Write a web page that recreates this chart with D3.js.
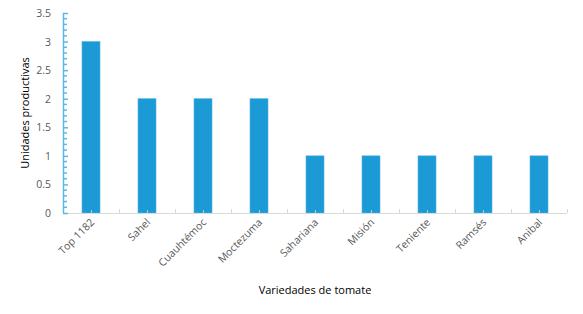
<!DOCTYPE html>
<html>
<head>
<meta charset="utf-8">
<script src="https://cdn.jsdelivr.net/npm/d3@7"></script>
<style>
  body { margin: 0; background: #fff; }
  text { font-family: "Open Sans", "Liberation Sans", sans-serif; }
</style>
</head>
<body>
<svg id="chart"></svg>
<script>
const variedades = ["Top 1182", "Sahel", "Cuauhtémoc", "Moctezuma", "Sahariana", "Misión", "Teniente", "Ramsés", "Anibal"];
const unidades = [3, 2, 2, 2, 1, 1, 1, 1, 1];
const yTicks = [0, 0.5, 1, 1.5, 2, 2.5, 3, 3.5];

const width = 583, height = 314;
const margin = { top: 13, right: 16, bottom: 101, left: 63 };

const svg = d3.select("#chart").attr("width", width).attr("height", height);
const g = svg.append("g").attr("transform", `translate(${margin.left}, ${margin.top})`);
const w = width - margin.left - margin.right;
const h = height - margin.top - margin.bottom;

const x = d3.scaleBand().domain(variedades).range([0, w]).paddingInner(0).paddingOuter(0);
const y = d3.scaleLinear().domain([0, 3.5]).range([h, 0]);

// bars
g.selectAll(".bar")
  .data(variedades)
  .enter()
  .append("rect")
  .attr("class", "bar")
  .attr("x", (d, i) => x(d) + x.bandwidth() / 2 - 9)
  .attr("y", (d, i) => y(unidades[i]))
  .attr("width", 18)
  .attr("height", (d, i) => h - y(unidades[i]))
  .attr("fill", "#1b9ad6")
  .attr("stroke", "#4db3e6")
  .attr("stroke-width", 0.6);

// x axis line + ticks
g.append("line").attr("x1", 0).attr("x2", w).attr("y1", h + 0.5).attr("y2", h + 0.5)
  .attr("stroke", "#d9d9d9");
g.selectAll(".xtick")
  .data(variedades.concat(["_end"]))
  .enter()
  .append("line")
  .attr("x1", (d, i) => Math.round(i * x.bandwidth()) + 0.5)
  .attr("x2", (d, i) => Math.round(i * x.bandwidth()) + 0.5)
  .attr("y1", h).attr("y2", h - 4)
  .attr("stroke", "#d9d9d9");
g.selectAll(".xmid")
  .data(variedades)
  .enter()
  .append("line")
  .attr("x1", d => Math.round(x(d) + x.bandwidth() / 2) + 0.5)
  .attr("x2", d => Math.round(x(d) + x.bandwidth() / 2) + 0.5)
  .attr("y1", h).attr("y2", h - 3)
  .attr("stroke", "#9fd2ee");

// x labels
g.selectAll(".xlabel")
  .data(variedades)
  .enter()
  .append("text")
  .attr("class", "xlabel")
  .attr("transform", d => `translate(${x(d) + x.bandwidth() / 2 + 4}, ${h + 10}) rotate(-45)`)
  .attr("text-anchor", "end")
  .attr("font-size", 10.5)
  .attr("fill", "#595959")
  .text(d => d);

// y axis
const yAxis = g.append("g")
  .call(d3.axisRight(y).tickValues(yTicks).tickSize(5).tickFormat(""));
yAxis.select(".domain").attr("stroke", "#5bb8e8").attr("stroke-width", 1.5).attr("d", `M0.5,0V${h}`);
yAxis.selectAll(".tick line").attr("stroke", "#5bb8e8").attr("stroke-width", 1.5);
const minor = d3.range(0, 35).map(i => i / 10).filter(v => Math.abs(v * 2 - Math.round(v * 2)) > 0.01);
g.selectAll(".minor")
  .data(minor)
  .enter()
  .append("line")
  .attr("x1", 0).attr("x2", 4)
  .attr("y1", d => y(d)).attr("y2", d => y(d))
  .attr("stroke", "#5bb8e8").attr("stroke-width", 1.5);

g.selectAll(".ylabel")
  .data(yTicks)
  .enter()
  .append("text")
  .attr("x", -12)
  .attr("y", d => y(d) + 4)
  .attr("text-anchor", "end")
  .attr("font-size", 10.5)
  .attr("fill", "#595959")
  .text(d => d);

// titles
svg.append("text")
  .attr("transform", `translate(29, ${margin.top + h / 2}) rotate(-90)`)
  .attr("text-anchor", "middle")
  .attr("font-size", 11)
  .attr("fill", "#000")
  .text("Unidades productivas");

svg.append("text")
  .attr("x", 315)
  .attr("y", 294)
  .attr("text-anchor", "middle")
  .attr("font-size", 11)
  .attr("fill", "#000")
  .text("Variedades de tomate");
</script>
</body>
</html>
